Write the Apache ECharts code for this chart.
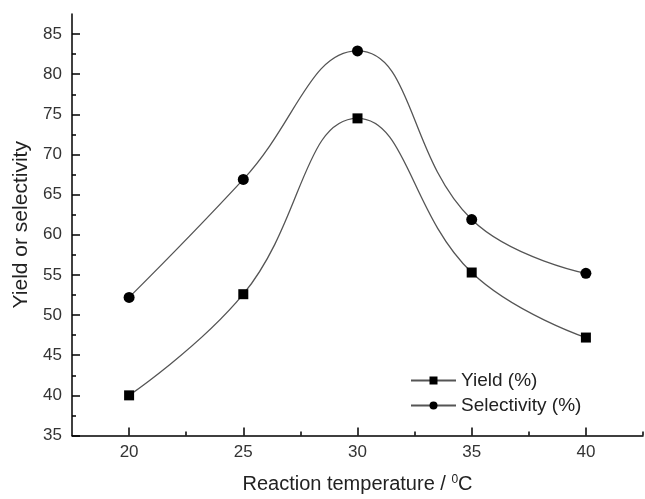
<!DOCTYPE html>
<html>
<head>
<meta charset="utf-8">
<script src="https://cdn.jsdelivr.net/npm/echarts@6/dist/echarts.min.js"></script>
<style>
  html, body { margin: 0; padding: 0; background: #fff; }
  #chart { width: 645px; height: 499px; }
</style>
</head>
<body>
<div id="chart"></div>
<script>
// reaction temperature (°C)
const temps = [20, 25, 30, 35, 40]
const yieldPct = [40.0, 52.6, 74.5, 55.3, 47.2]
const selectivityPct = [52.2, 66.9, 82.9, 61.9, 55.2]

const xTicks = [20, 25, 30, 35, 40]
const xMinorTicks = [22.5, 27.5, 32.5, 37.5, 42.5]
const yTicks = [35, 40, 45, 50, 55, 60, 65, 70, 75, 80, 85]
const yMinorTicks = [37.5, 42.5, 47.5, 52.5, 57.5, 62.5, 67.5, 72.5, 77.5, 82.5]

const font = 'Liberation Sans, Arial, sans-serif'
const axisLine = { show: true, lineStyle: { color: '#000', width: 1.5 } }

const chart = echarts.init(document.getElementById('chart'))

const option = {
  animation: false,
  textStyle: { fontFamily: font },
  grid: { left: 72, right: 2, top: 14, bottom: 59 },
  legend: {
    orient: 'vertical',
    left: 405,
    top: 366,
    itemWidth: 45,
    itemHeight: 10,
    itemGap: 6,
    textStyle: { fontSize: 19, color: '#222', fontFamily: font },
    data: ['Yield (%)', 'Selectivity (%)']
  },
  xAxis: [
    {
      type: 'value',
      min: 17.5,
      max: 42.5,
      axisLine: axisLine,
      axisTick: { show: true, inside: true, length: 8, customValues: xTicks, lineStyle: { color: '#000', width: 1.5 } },
      axisLabel: { customValues: xTicks, fontSize: 17, color: '#333', margin: 8 },
      splitLine: { show: false },
      name: 'Reaction temperature / {sup|0}C',
      nameLocation: 'middle',
      nameGap: 38,
      nameTextStyle: {
        fontSize: 20, color: '#222',
        rich: { sup: { fontSize: 12, verticalAlign: 'top', padding: [0, 0, 9, 0], color: '#222' } }
      }
    },
    {
      type: 'value',
      min: 17.5,
      max: 42.5,
      position: 'bottom',
      axisLine: { show: false },
      axisTick: { show: true, inside: true, length: 4, customValues: xMinorTicks, lineStyle: { color: '#000', width: 1.5 } },
      axisLabel: { show: false },
      splitLine: { show: false }
    }
  ],
  yAxis: [
    {
      type: 'value',
      min: 35,
      max: 87.5,
      axisLine: axisLine,
      axisTick: { show: true, inside: true, length: 8, customValues: yTicks, lineStyle: { color: '#000', width: 1.5 } },
      axisLabel: { customValues: yTicks, fontSize: 17, color: '#333', margin: 10 },
      splitLine: { show: false },
      name: 'Yield or selectivity',
      nameLocation: 'middle',
      nameGap: 37,
      nameTextStyle: { fontSize: 21, color: '#222' }
    },
    {
      type: 'value',
      min: 35,
      max: 87.5,
      position: 'left',
      axisLine: { show: false },
      axisTick: { show: true, inside: true, length: 4, customValues: yMinorTicks, lineStyle: { color: '#000', width: 1.5 } },
      axisLabel: { show: false },
      splitLine: { show: false }
    }
  ],
  series: [
    {
      name: 'Yield (%)',
      type: 'line',
      smooth: 0.45,
      symbol: 'rect',
      symbolSize: 10,
      data: temps.map((t, i) => [t, yieldPct[i]]),
      lineStyle: { color: '#555', width: 1.3 },
      itemStyle: { color: '#000' }
    },
    {
      name: 'Selectivity (%)',
      type: 'line',
      smooth: 0.45,
      symbol: 'circle',
      symbolSize: 11,
      data: temps.map((t, i) => [t, selectivityPct[i]]),
      lineStyle: { color: '#555', width: 1.3 },
      itemStyle: { color: '#000' }
    }
  ]
}

chart.setOption(option)
</script>
</body>
</html>
